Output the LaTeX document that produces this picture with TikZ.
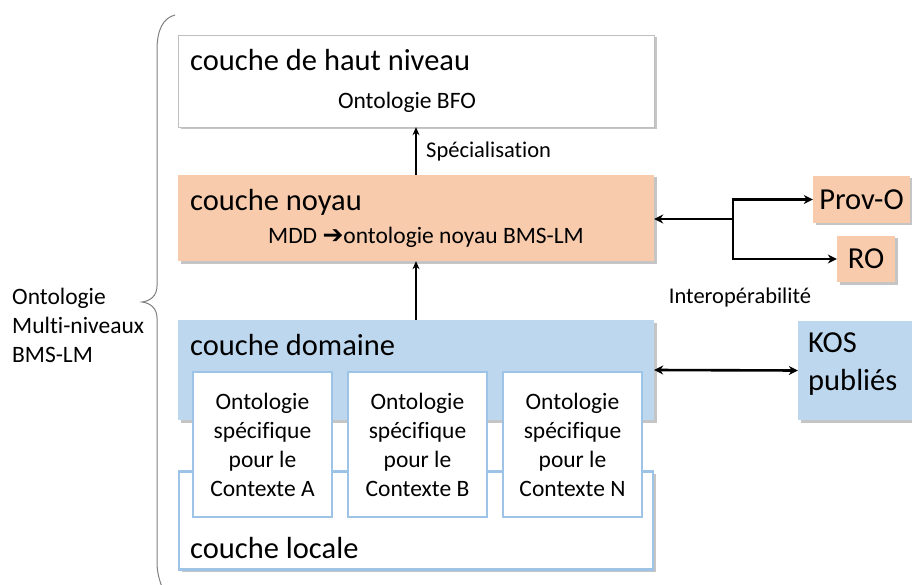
\documentclass[tikz,border=0pt]{standalone}
\usepackage{fontspec}
\setmainfont{Carlito}[Ligatures={NoCommon}]
\newfontfamily\symfont{DejaVu Sans}
\usetikzlibrary{arrows.meta,shadows}
\definecolor{noyaufill}{HTML}{F8CBAD}
\definecolor{domfill}{HTML}{BDD7EE}
\definecolor{blueline}{HTML}{9DC3E6}
\definecolor{braceline}{HTML}{808080}
\tikzset{
  layer/.style={draw=none, rectangle, inner sep=0pt, drop shadow={shadow xshift=2.5pt, shadow yshift=-2.5pt, opacity=0.45}},
  bigtxt/.style={inner sep=0pt, font=\fontsize{30.5}{36}\selectfont},
  smalltxt/.style={inner sep=0pt, font=\fontsize{23.5}{29}\selectfont},
  innerbox/.style={rectangle, draw=blueline, line width=1.3pt, fill=white, inner sep=0pt, minimum width=139pt, minimum height=145pt, align=center, font=\fontsize{23.5}{29}\selectfont},
  thinarrow/.style={draw=black, line width=1.1pt, -{Stealth[length=8pt,width=7pt]}},
  interarrow/.style={draw=black, line width=2.6pt, -{Stealth[length=9pt,width=9pt]}},
}
\begin{document}
\begin{tikzpicture}[x=1pt,y=-1pt]
\useasboundingbox[fill=white] (0,0) rectangle (912,585);
% brace
\draw[braceline, line width=1pt] (175,15) .. controls (163,18) and (157,30) .. (157,50) -- (157,286) .. controls (157,296) and (150,301) .. (142,302) .. controls (150,303) and (157,308) .. (157,318) -- (157,562) .. controls (157,572) and (159,580) .. (164,592);
\node[smalltxt, anchor=west, align=left] (lbl) at (12,325) {Ontologie\\Multi-niveaux\\BMS-LM};
% top layer
\node[layer, fill=white, draw=black!25, line width=0.4pt, minimum width=476pt, minimum height=92pt] (top) at (416,81) {};
\node[bigtxt, anchor=west] (toptitle) at (190,60) {couche de haut niveau};
\node[smalltxt] (bfo) at (407,102) {Ontologie BFO};
% noyau layer
\node[layer, fill=noyaufill, minimum width=476pt, minimum height=86pt] (noyau) at (416,218) {};
\node[bigtxt, anchor=west] (noytitle) at (190,202) {couche noyau};
\node[smalltxt] (mdd) at (426,237) {MDD {\symfont\bfseries\fontsize{25}{29}\selectfont ➔}ontologie noyau BMS-LM};
% domaine layer
\node[layer, fill=domfill, minimum width=476pt, minimum height=100pt] (dom) at (416,370) {};
\node[bigtxt, anchor=west] (domtitle) at (190,345) {couche domaine};
% locale layer
\node[layer, fill=white, draw=blueline, line width=2.5pt, minimum width=474pt, minimum height=98pt] (loc) at (416,520.5) {};
\node[bigtxt, anchor=west] (loctitle) at (190,548) {couche locale};
% inner boxes
\node[innerbox] (ctxa) at (262.5,444.5) {Ontologie\\spécifique\\pour le\\Contexte A};
\node[innerbox] (ctxb) at (417.5,444.5) {Ontologie\\spécifique\\pour le\\Contexte B};
\node[innerbox] (ctxn) at (572.5,444.5) {Ontologie\\spécifique\\pour le\\Contexte N};
% external boxes
\node[layer, fill=noyaufill, minimum width=97pt, minimum height=47pt, bigtxt] (provo) at (861.5,199.5) {Prov-O};
\node[layer, fill=noyaufill, minimum width=58pt, minimum height=46pt, bigtxt] (ro) at (866,259) {RO};
\node[layer, fill=domfill, minimum width=118pt, minimum height=99pt] (kos) at (857,370.5) {};
\node[bigtxt, anchor=west, align=left, font=\fontsize{30.5}{38}\selectfont] (kostxt) at (808,364) {KOS\\publiés};
% connectors
\draw[thinarrow] (noyau.north) -- (top.south);
\node[smalltxt, anchor=west, font=\fontsize{22.5}{26}\selectfont] (spec) at (426,152) {Spécialisation};
\draw[thinarrow] (dom.north) -- (noyau.south);
\coordinate (junc) at (733,219);
\draw[interarrow] (junc) -- (noyau.east |- junc);
\draw[interarrow] (junc) |- (provo.west);
\draw[interarrow] (junc) |- (ro.west);
\node[smalltxt, font=\fontsize{22.5}{26}\selectfont] (interop) at (740,298) {Interopérabilité};
\draw[line width=2.6pt, {Stealth[length=9pt,width=9pt]}-{Stealth[length=9pt,width=9pt]}] (dom.east) -- (kos.west);
\end{tikzpicture}
\end{document}
